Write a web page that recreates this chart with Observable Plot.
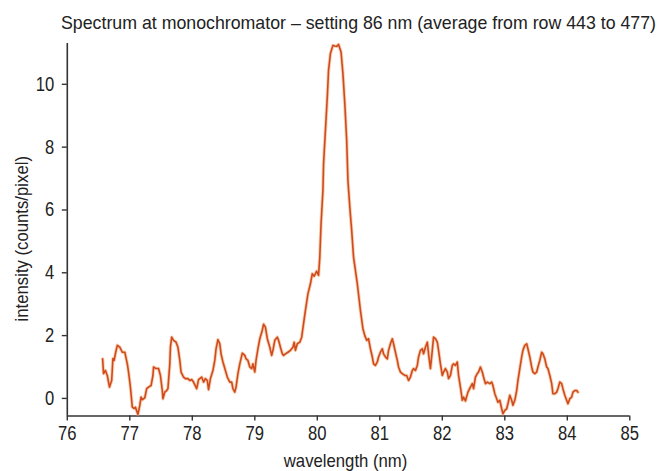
<!DOCTYPE html>
<html>
<head>
<meta charset="utf-8">
<script src="https://cdn.jsdelivr.net/npm/d3@7"></script>
<script src="https://cdn.jsdelivr.net/npm/@observablehq/plot@0.6"></script>
<style>
  html, body { margin: 0; padding: 0; background: #ffffff; }
  #wrap { width: 662px; height: 471px; position: relative; overflow: hidden;
    font-family: "Liberation Sans", Arial, sans-serif; color: #222; }
  #title { box-sizing: border-box; height: 36px; padding-top: 13px; padding-left: 61px;
    font-size: 19px; line-height: 19px; white-space: nowrap; color: #222; }
  #title span { display: inline-block; transform-origin: 0 50%; }
  svg { display: block; }
</style>
</head>
<body>
<div id="wrap">
  <div id="title"><span id="titleText">Spectrum at monochromator – setting 86 nm (average from row 443 to 477)</span></div>
  <div id="chart"></div>
</div>
<script>
const wavelength = [
  76.565, 76.58, 76.61, 76.64, 76.675, 76.71, 76.73, 76.75, 76.77, 76.80,
  76.84, 76.88, 76.92, 76.96, 76.98, 77.01, 77.04, 77.07, 77.09, 77.13,
  77.16, 77.18, 77.20, 77.24, 77.27, 77.30, 77.34, 77.37, 77.38, 77.42,
  77.46, 77.49, 77.52, 77.53, 77.56, 77.59, 77.61, 77.64, 77.65, 77.67,
  77.70, 77.74, 77.77, 77.80, 77.82, 77.86, 77.89, 77.93, 77.96, 77.99,
  78.02, 78.07, 78.10, 78.15, 78.18, 78.21, 78.24, 78.26, 78.29, 78.33,
  78.36, 78.38, 78.41, 78.44, 78.46, 78.49, 78.53, 78.56, 78.60, 78.63,
  78.65, 78.68, 78.70, 78.73, 78.76, 78.80, 78.84, 78.86, 78.89, 78.92,
  78.95, 78.97, 79.00, 79.02, 79.05, 79.08, 79.12, 79.14, 79.17, 79.20,
  79.24, 79.27, 79.29, 79.32, 79.36, 79.38, 79.41, 79.44, 79.46, 79.49,
  79.53, 79.57, 79.61, 79.63, 79.65, 79.68, 79.72, 79.75, 79.78, 79.81,
  79.85, 79.89, 79.92, 79.95, 79.99, 80.02, 80.04, 80.06, 80.09, 80.10,
  80.13, 80.16, 80.18, 80.21, 80.25, 80.28, 80.31, 80.34, 80.38, 80.41,
  80.44, 80.47, 80.49, 80.52, 80.55, 80.58, 80.64, 80.69, 80.73, 80.76,
  80.79, 80.82, 80.85, 80.88, 80.90, 80.93, 80.96, 80.98, 81.01, 81.04,
  81.06, 81.09, 81.12, 81.14, 81.17, 81.20, 81.22, 81.25, 81.28, 81.30,
  81.33, 81.36, 81.40, 81.43, 81.46, 81.49, 81.52, 81.54, 81.57, 81.60,
  81.62, 81.65, 81.68, 81.70, 81.73, 81.76, 81.78, 81.81, 81.84, 81.86,
  81.89, 81.92, 81.94, 81.97, 82.00, 82.02, 82.05, 82.08, 82.10, 82.13,
  82.16, 82.18, 82.21, 82.24, 82.26, 82.29, 82.32, 82.34, 82.37, 82.41,
  82.45, 82.48, 82.50, 82.53, 82.56, 82.58, 82.61, 82.64, 82.66, 82.69,
  82.72, 82.76, 82.79, 82.81, 82.84, 82.87, 82.89, 82.92, 82.95, 82.97,
  83.00, 83.03, 83.05, 83.08, 83.11, 83.13, 83.16, 83.19, 83.21, 83.24,
  83.27, 83.29, 83.32, 83.35, 83.37, 83.40, 83.43, 83.45, 83.48, 83.51,
  83.53, 83.56, 83.59, 83.61, 83.64, 83.67, 83.69, 83.72, 83.75, 83.77,
  83.80, 83.83, 83.85, 83.88, 83.91, 83.93, 83.96, 83.99, 84.01, 84.04,
  84.07, 84.09, 84.12, 84.15, 84.17
];
const intensity = [
  1.26, 0.79, 0.89, 0.73, 0.36, 0.57, 1.27, 1.21, 1.43, 1.69,
  1.63, 1.47, 1.47, 1.10, 0.84, 0.36, -0.28, -0.32, -0.28, -0.51,
  -0.22, 0.04, -0.04, 0.02, 0.31, 0.36, 0.41, 0.73, 1.00, 0.95,
  0.95, 0.73, 0.25, -0.01, 0.20, 0.25, 0.31, 1.10, 1.63, 1.95,
  1.85, 1.79, 1.63, 1.21, 0.84, 0.68, 0.63, 0.63, 0.57, 0.60,
  0.52, 0.31, 0.60, 0.68, 0.52, 0.63, 0.57, 0.28, 0.63, 0.89,
  1.21, 1.58, 1.87, 1.74, 1.42, 1.16, 0.89, 0.68, 0.52, 0.52,
  0.31, 0.20, 0.36, 0.79, 1.10, 1.44, 1.37, 1.26, 1.21, 1.00,
  0.95, 1.10, 0.84, 1.21, 1.58, 1.90, 2.17, 2.36, 2.27, 1.90,
  1.63, 1.37, 1.53, 1.85, 1.95, 1.85, 1.63, 1.42, 1.37, 1.42,
  1.47, 1.53, 1.63, 1.79, 1.53, 1.74, 1.79, 1.95, 2.38, 2.80,
  3.33, 3.65, 3.97, 3.89, 4.05, 3.92, 4.50, 5.56, 6.62, 7.47,
  8.54, 9.60, 10.45, 10.98, 11.24, 11.22, 11.21, 11.27, 11.03, 10.34,
  9.38, 8.22, 6.94, 6.09, 5.35, 4.50, 3.65, 2.80, 2.22, 2.00,
  1.85, 1.90, 1.58, 1.32, 1.10, 1.05, 1.16, 1.32, 1.47, 1.58,
  1.42, 1.32, 1.26, 1.53, 1.74, 1.90, 1.74, 1.47, 1.21, 1.00,
  0.84, 0.79, 0.73, 0.73, 0.57, 0.68, 0.89, 0.95, 0.89, 1.05,
  1.32, 1.53, 1.58, 1.42, 1.63, 1.79, 1.42, 0.95, 1.53, 1.95,
  1.90, 1.79, 1.53, 1.10, 0.73, 0.84, 0.95, 0.84, 0.63, 0.73,
  1.05, 1.10, 1.05, 1.16, 0.73, 0.36, -0.06, 0.04, -0.08, 0.20,
  0.36, 0.47, 0.31, 0.68, 0.79, 0.84, 1.00, 0.84, 0.68, 0.47,
  0.52, 0.47, 0.52, 0.41, 0.15, -0.01, -0.12, -0.06, -0.33, -0.49,
  -0.38, -0.33, -0.17, 0.10, -0.06, -0.22, -0.06, 0.25, 0.57, 0.95,
  1.32, 1.53, 1.69, 1.74, 1.58, 1.32, 1.00, 0.84, 0.79, 0.84,
  1.00, 1.21, 1.47, 1.42, 1.26, 1.00, 0.95, 0.73, 0.47, 0.15,
  0.15, 0.20, 0.31, 0.52, 0.47, 0.31, 0.10, -0.06, -0.17, -0.01,
  0.04, 0.20, 0.25, 0.25, 0.20
];
const xTicks = [76, 77, 78, 79, 80, 81, 82, 83, 84, 85];
const yTicks = [0, 2, 4, 6, 8, 10];
const xDomain = [76, 85];
const yDomain = [-0.56, 11.3];
const xLabel = "wavelength (nm)";
const yLabel = "intensity (counts/pixel)";

const data = wavelength.map((w, i) => ({w, v: intensity[i]}));
const font = '"Liberation Sans", Arial, sans-serif';
const axisColor = "#333";
const lineColor = "#cf4a1f";

const chart = Plot.plot({
  width: 662,
  height: 435,
  marginTop: 7,
  marginBottom: 55.5,
  marginLeft: 66.8,
  marginRight: 32.7,
  style: {fontFamily: font, fontSize: "20px", color: axisColor, background: "transparent"},
  x: {domain: xDomain, ticks: xTicks, label: null},
  y: {domain: yDomain, ticks: yTicks, label: null},
  marks: [
    Plot.axisX({ticks: xTicks, tickSize: 5, tickPadding: 5, fontSize: 20, stroke: axisColor, strokeWidth: 1.4, fill: "#222", label: null}),
    Plot.axisY({ticks: yTicks, tickSize: 5, tickPadding: 8, fontSize: 20, stroke: axisColor, strokeWidth: 1.4, fill: "#222", label: null}),
    Plot.ruleX([xDomain[0]], {y1: yDomain[0], y2: yDomain[1], stroke: axisColor, strokeWidth: 1.6}),
    Plot.ruleY([yDomain[0]], {x1: xDomain[0], x2: xDomain[1], stroke: axisColor, strokeWidth: 1.6}),
    Plot.line(data, {x: "w", y: "v", stroke: "#f2a060", strokeWidth: 3.4, strokeOpacity: 0.5}),
    Plot.line(data, {x: "w", y: "v", stroke: lineColor, strokeWidth: 1.6}),
    Plot.text([xLabel], {frameAnchor: "bottom", dx: -3, dy: 45, lineAnchor: "middle", fontSize: 19, fill: "#222", className: "axlabel"}),
    Plot.text([yLabel], {frameAnchor: "left", rotate: -90, dx: -45, dy: 9, lineAnchor: "middle", textAnchor: "middle", fontSize: 19, fill: "#222", className: "axlabel"})
  ]
});
document.getElementById("chart").appendChild(chart);

// Narrow the glyphs to mimic the condensed typeface of the original
chart.querySelectorAll("text").forEach(t => {
  const len = t.getComputedTextLength();
  if (len > 0) {
    const isLabel = t.closest(".axlabel") !== null;
    t.setAttribute("textLength", (len * (isLabel ? 0.88 : 0.83)).toFixed(1));
    t.setAttribute("lengthAdjust", "spacingAndGlyphs");
  }
});
const tt = document.getElementById("titleText");
const tw = tt.getBoundingClientRect().width;
if (tw > 0) tt.style.transform = `scaleX(${595 / tw})`;
</script>
</body>
</html>
